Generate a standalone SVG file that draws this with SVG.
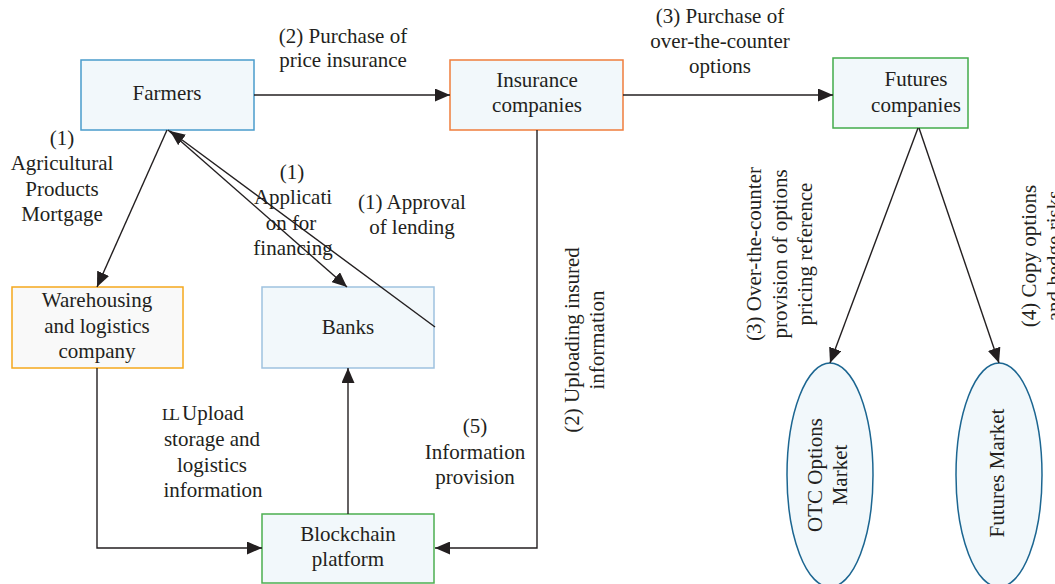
<svg xmlns="http://www.w3.org/2000/svg" width="1055" height="584" viewBox="0 0 1055 584">
<defs>
<marker id="arr" markerWidth="15" markerHeight="13" refX="15" refY="6.5" orient="auto" markerUnits="userSpaceOnUse">
<path d="M0,0 L15,6.5 L0,13 z" fill="#231f20"/>
</marker>
<style>
text{font-family:"Liberation Serif","Times New Roman",serif;font-size:21px;fill:#231f20;text-anchor:middle}
.box{fill:#f2f8fb;stroke-width:1.5}
.ell{fill:#f2f8fb;stroke:#1c6691;stroke-width:1.5}
.con{fill:none;stroke:#231f20;stroke-width:1.4}
.arrow{marker-end:url(#arr)}
</style>
</defs>
<rect width="1055" height="584" fill="#ffffff"/>
<g id="farmers">
<rect class="box" x="81" y="60" width="173" height="70" stroke="#4a9ccc"/>
<text x="167" y="100">Farmers</text>
</g>
<g id="insurance">
<rect class="box" x="450" y="60" width="173" height="70" stroke="#ef7d3c"/>
<text x="537" y="87">Insurance</text>
<text x="537" y="112">companies</text>
</g>
<g id="futures">
<rect class="box" x="833" y="58" width="135" height="70" stroke="#43ac4b"/>
<text x="916" y="86">Futures</text>
<text x="916" y="112">companies</text>
</g>
<g id="warehousing">
<rect x="12" y="287" width="171" height="81" fill="#f9f9f9" stroke="#f5a81c" stroke-width="1.5"/>
<text x="97" y="307">Warehousing</text>
<text x="97" y="333">and logistics</text>
<text x="97" y="358">company</text>
</g>
<g id="banks">
<rect class="box" x="262" y="287" width="172" height="81" stroke="#9ec2df"/>
<text x="348" y="334">Banks</text>
</g>
<g id="blockchain">
<rect class="box" x="262" y="514" width="172" height="69" stroke="#4caf50"/>
<text x="348" y="541">Blockchain</text>
<text x="348" y="566">platform</text>
</g>
<g id="otc">
<ellipse class="ell" cx="830" cy="475" rx="43" ry="112"/>
<g transform="translate(822,475) rotate(-90)"><text x="0" y="0">OTC Options</text><text x="0" y="25">Market</text></g>
</g>
<g id="futuresmarket">
<ellipse class="ell" cx="999" cy="475" rx="43" ry="112"/>
<g transform="translate(1004,473) rotate(-90)"><text x="0" y="0">Futures Market</text></g>
</g>
<g id="connectors">
<path class="con arrow" d="M254,95 H450"/>
<path class="con arrow" d="M623,95 H833"/>
<path class="con arrow" d="M167,130 L97,287"/>
<path class="con arrow" d="M168,130 L347,287"/>
<path class="con arrow" d="M435,327 L170,131"/>
<path class="con arrow" d="M97,368 V548 H262"/>
<path class="con arrow" d="M348,514 V368"/>
<path class="con arrow" d="M537,130 V548 H435"/>
<path class="con arrow" d="M918,128 L830,363"/>
<path class="con arrow" d="M919,128 L999,363"/>
</g>
<g id="labels">
<text x="343" y="43">(2) Purchase of</text>
<text x="343" y="67">price insurance</text>
<text x="720" y="23">(3) Purchase of</text>
<text x="720" y="48">over-the-counter</text>
<text x="720" y="73">options</text>
<text x="62" y="145">(1)</text>
<text x="62" y="170">Agricultural</text>
<text x="62" y="196">Products</text>
<text x="62" y="221">Mortgage</text>
<text x="292" y="179">(1)</text>
<text x="293" y="204">Applicati</text>
<text x="291" y="230">on for</text>
<text x="293" y="255">financing</text>
<text x="412" y="209">(1) Approval</text>
<text x="412" y="234">of lending</text>
<text x="162" y="420" style="text-anchor:start"><tspan font-size="17" letter-spacing="-3">LL</tspan> Upload</text>
<text x="212" y="446">storage and</text>
<text x="212" y="472">logistics</text>
<text x="213" y="497">information</text>
<text x="475" y="433">(5)</text>
<text x="475" y="459">Information</text>
<text x="475" y="484">provision</text>
<g transform="translate(579,340) rotate(-90)"><text x="0" y="0">(2) Uploading insured</text><text x="0" y="25">information</text></g>
<g transform="translate(761,254) rotate(-90)"><text x="0" y="0">(3) Over-the-counter</text><text x="0" y="25.5">provision of options</text><text x="0" y="51">pricing reference</text></g>
<g transform="translate(1036,256) rotate(-90)"><text x="0" y="0">(4) Copy options</text><text x="0" y="25">and hedge risks</text></g>
</g>
</svg>
